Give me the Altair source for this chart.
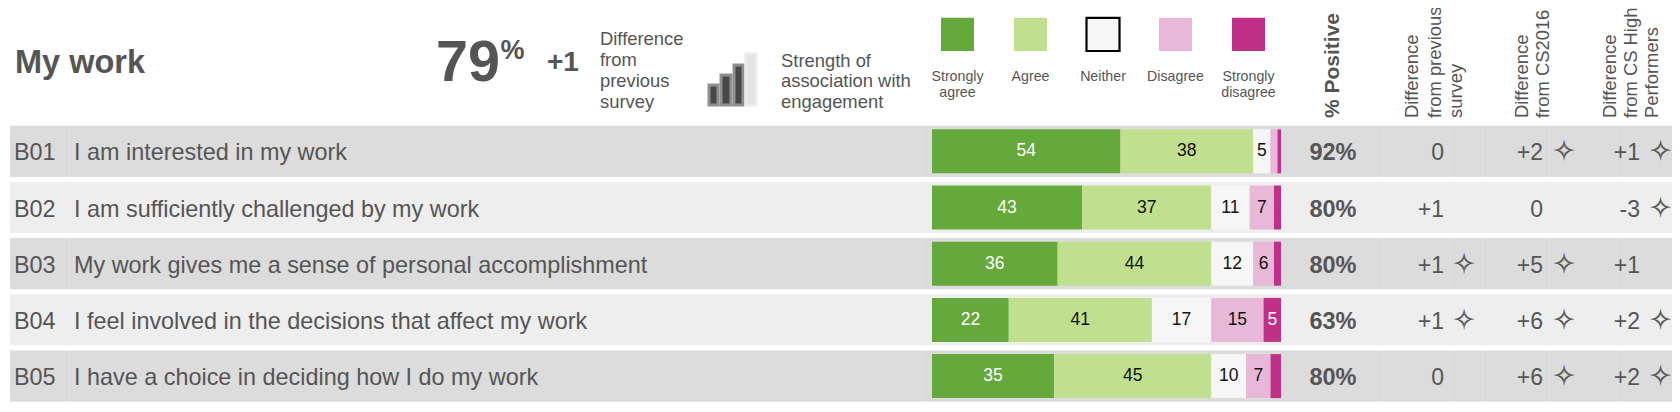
import altair as alt
import pandas as pd

codes = ["B01", "B02", "B03", "B04", "B05"]
questions = [
    "I am interested in my work",
    "I am sufficiently challenged by my work",
    "My work gives me a sense of personal accomplishment",
    "I feel involved in the decisions that affect my work",
    "I have a choice in deciding how I do my work",
]
levels = ["Strongly agree", "Agree", "Neither", "Disagree", "Strongly disagree"]
strongly_agree = [54, 43, 36, 22, 35]
agree = [38, 37, 44, 41, 45]
neither = [5, 11, 12, 17, 10]
disagree = [2, 7, 6, 15, 7]
strongly_disagree = [1, 2, 2, 5, 3]
positive = ["92%", "80%", "80%", "63%", "80%"]
diff_prev = ["0", "+1", "+1", "+1", "0"]
diff_prev_star = [False, False, True, True, False]
diff_cs = ["+2", "0", "+5", "+6", "+6"]
diff_cs_star = [True, False, True, True, True]
diff_high = ["+1", "-3", "+1", "+2", "+2"]
diff_high_star = [True, True, False, True, True]
overall = "79"
overall_diff = "+1"

palette = ["#65a93c", "#c1e08f", "#f6f6f6", "#e8b8d8", "#c03088"]
GREY = "#555555"
SANS = "Liberation Sans"
OFF = 8  # page margin

rows = pd.DataFrame({"code": codes, "question": questions, "idx": range(5), "positive": positive})
series = [strongly_agree, agree, neither, disagree, strongly_disagree]
bars = pd.DataFrame(
    [
        {"code": codes[r], "level": lv, "ord": i, "value": series[i][r]}
        for r in range(5)
        for i, lv in enumerate(levels)
    ]
)

y_scale = alt.Scale(domain=codes, range=[117.7, 393.7], paddingInner=5 / 56.2, paddingOuter=0)
Y = alt.Y("code:N", scale=y_scale, axis=None)
x_scale = alt.Scale(domain=[0, 100], range=[932 - OFF, 1281 - OFF])


def txt(text, x, y, size=18.4, bold=False, color=GREY, align="left", angle=None, font=SANS):
    kw = dict(fontSize=size, font=font, color=color, align=align, baseline="middle")
    if bold:
        kw["fontWeight"] = "bold"
    if angle is not None:
        kw["angle"] = angle
    return (
        alt.Chart(pd.DataFrame({"t": [text]}))
        .mark_text(**kw)
        .encode(text="t:N", x=alt.value(x - OFF), y=alt.value(y - OFF))
    )


layers = []

# row backgrounds
layers.append(
    alt.Chart(rows)
    .mark_bar()
    .encode(
        x=alt.value(10 - OFF),
        x2=alt.value(1680 - OFF),
        y=Y,
        color=alt.condition("datum.idx % 2 == 0", alt.value("#dcdcdc"), alt.value("#eeeeee")),
    )
)
for sx in [69, 921, 1383, 1449, 1482, 1549, 1616]:
    layers.append(
        alt.Chart(rows)
        .mark_bar(color="#ffffff", opacity=0.15)
        .encode(x=alt.value(sx - OFF), x2=alt.value(sx + 1 - OFF), y=Y)
    )

# stacked bars
stacked = alt.Chart(bars).transform_stack(
    stack="value", groupby=["code"], sort=[alt.SortField("ord")], as_=["x0", "x1"]
)
layers.append(
    stacked.mark_bar(size=44).encode(
        x=alt.X("x0:Q", scale=x_scale, axis=None),
        x2="x1:Q",
        y=Y,
        color=alt.Color("level:N", scale=alt.Scale(domain=levels, range=palette), legend=None),
    )
)
layers.append(
    stacked.transform_calculate(mid="(datum.x0 + datum.x1) / 2")
    .transform_filter("datum.value >= 5")
    .mark_text(fontSize=17.5, font=SANS, baseline="middle")
    .encode(
        x=alt.X("mid:Q", scale=x_scale, axis=None),
        y=Y,
        text="value:Q",
        color=alt.condition("datum.ord == 0 || datum.ord == 4", alt.value("#ffffff"), alt.value("#111111")),
    )
)

# row text
layers.append(
    alt.Chart(rows)
    .mark_text(fontSize=23.4, font=SANS, color=GREY, align="left", baseline="middle", dy=2)
    .encode(x=alt.value(14 - OFF), y=Y, text="code:N")
)
layers.append(
    alt.Chart(rows)
    .mark_text(fontSize=23.4, font=SANS, color=GREY, align="left", baseline="middle", dy=2)
    .encode(x=alt.value(74 - OFF), y=Y, text="question:N")
)
layers.append(
    alt.Chart(rows)
    .mark_text(fontSize=23.5, font=SANS, color=GREY, align="center", baseline="middle", fontWeight="bold", dy=2)
    .encode(x=alt.value(1333 - OFF), y=Y, text="positive:N")
)

# difference columns
for vals, stars, right, star_x in [
    (diff_prev, diff_prev_star, 1444, 1464),
    (diff_cs, diff_cs_star, 1543, 1564),
    (diff_high, diff_high_star, 1640, 1660.5),
]:
    df = pd.DataFrame({"code": codes, "v": vals, "s": ["\u2727" if s else "" for s in stars]})
    layers.append(
        alt.Chart(df)
        .mark_text(fontSize=23, font=SANS, color=GREY, align="right", baseline="middle", dy=2)
        .encode(x=alt.value(right - OFF), y=Y, text="v:N")
    )
    layers.append(
        alt.Chart(df)
        .mark_text(
            fontSize=27, font="DejaVu Sans", color=GREY, stroke=GREY, strokeWidth=0.4,
            align="center", baseline="middle", dy=1,
        )
        .encode(x=alt.value(star_x - OFF), y=Y, text="s:N")
    )

# header left
layers.append(txt("My work", 15, 63, size=32.5, bold=True))
layers.append(txt(overall, 436, 64, size=57.5, bold=True))
layers.append(txt("%", 500.5, 51, size=27, bold=True))
layers.append(txt(overall_diff, 547, 63, size=28, bold=True))
for i, line in enumerate(["Difference", "from", "previous", "survey"]):
    layers.append(txt(line, 600, 39 + i * 21, size=18.4))
for i, line in enumerate(["Strength of", "association with", "engagement"]):
    layers.append(txt(line, 781, 60.5 + i * 20.5, size=18.4))

# strength icon
for (x0, x1, top), fill, stroke in zip(
    [(709, 718, 85), (721, 731, 75), (734, 743, 65), (746, 756, 54)],
    ["#484848", "#484848", "#484848", "#e4e4e4"],
    ["#8f8f8f", "#8f8f8f", "#8f8f8f", "#ececec"],
):
    layers.append(
        alt.Chart(pd.DataFrame({"a": [0]}))
        .mark_rect(fill=fill, stroke=stroke, strokeWidth=3)
        .encode(
            x=alt.value(x0 - OFF),
            x2=alt.value(x1 - OFF),
            y=alt.value(top - OFF),
            y2=alt.value(105 - OFF),
        )
    )

# legend
centers = [957.5, 1030.5, 1103, 1175.5, 1248.5]
legend_lines = [["Strongly", "agree"], ["Agree"], ["Neither"], ["Disagree"], ["Strongly", "disagree"]]
for c, fill, lines, lv in zip(centers, palette, legend_lines, levels):
    kw = {"stroke": "#000000", "strokeWidth": 2.2} if lv == "Neither" else {}
    layers.append(
        alt.Chart(pd.DataFrame({"level": [lv]}))
        .mark_rect(fill=fill, **kw)
        .encode(
            x=alt.value(c - 16.5 - OFF),
            x2=alt.value(c + 16.5 - OFF),
            y=alt.value(17.8 - OFF),
            y2=alt.value(51 - OFF),
        )
    )
    for i, line in enumerate(lines):
        layers.append(txt(line, c, 77 + i * 16, size=14.2, align="center"))

# rotated column headers
layers.append(txt("% Positive", 1333, 118, size=21, bold=True, angle=270))
for x, line in zip([1412, 1435, 1456], ["Difference", "from previous", "survey"]):
    layers.append(txt(line, x, 118, angle=270))
for x, line in zip([1522, 1543], ["Difference", "from CS2016"]):
    layers.append(txt(line, x, 118, angle=270))
for x, line in zip([1610, 1631, 1652], ["Difference", "from CS High", "Performers"]):
    layers.append(txt(line, x, 118, angle=270))

chart = (
    alt.layer(*layers)
    .properties(width=1664, height=396, padding=0, autosize=alt.AutoSizeParams(type="none"))
    .configure_view(stroke=None)
)
chart.save("out.html", embed_options={"renderer": "svg", "actions": False})
